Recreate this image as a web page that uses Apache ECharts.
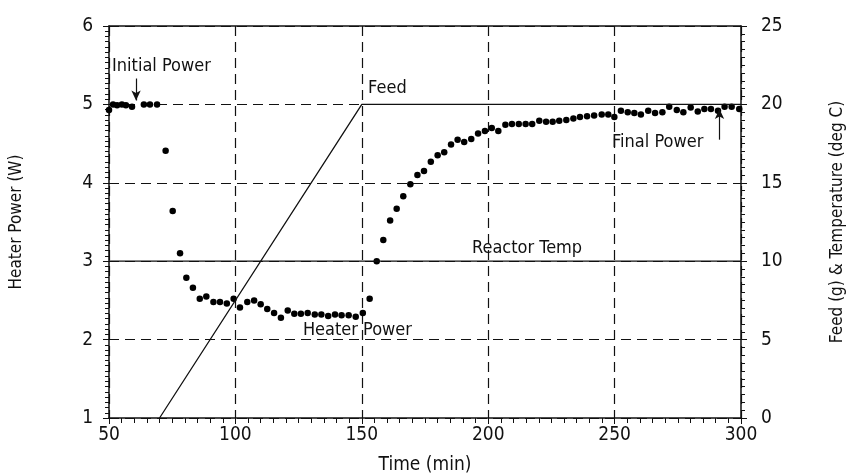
<!DOCTYPE html>
<html>
<head>
    <meta charset="utf-8">
    <title>Heater Power</title>
    <script src="https://cdn.jsdelivr.net/npm/echarts@6/dist/echarts.min.js"></script>
</head>
<body style="margin:0;background:#fff">
    <div id="main" style="width:849px;height:476px"></div>
    <script type="text/javascript">
        // heater power samples (min, W)
        var timeMin = [50.0, 51.6, 53.2, 55.1, 56.7, 59.1, 63.8, 66.2, 69.0,
            72.4, 75.2, 78.1, 80.6, 83.2, 85.9, 88.5, 91.3, 93.9, 96.6, 99.3,
            101.8, 104.7, 107.4, 110.0, 112.6, 115.3, 118.0, 120.7, 123.3, 125.9,
            128.6, 131.4, 134.0, 136.7, 139.4, 142.0, 144.8, 147.6, 150.4, 153.1,
            155.9, 158.5, 161.2, 163.8, 166.4, 169.2, 172.0, 174.6, 177.3, 180.0,
            182.6, 185.3, 187.9, 190.5, 193.3, 196.0, 198.7, 201.4, 204.0, 206.8,
            209.4, 212.1, 214.8, 217.4, 220.2, 222.9, 225.5, 228.1, 230.9, 233.7,
            236.3, 239.1, 241.9, 244.9, 247.5, 249.9, 252.5, 255.2, 257.8, 260.4,
            263.3, 266.0, 268.9, 271.6, 274.6, 277.2, 280.1, 282.9, 285.5, 288.1,
            290.9, 293.5, 296.3, 299.3];
        var heaterW = [4.93, 5.0, 4.99, 5.0, 4.99, 4.97, 5.0, 5.0, 5.0,
            4.41, 3.64, 3.10, 2.79, 2.66, 2.52, 2.55, 2.48, 2.48, 2.46, 2.52,
            2.41, 2.48, 2.50, 2.45, 2.39, 2.34, 2.28, 2.37, 2.33, 2.33,
            2.34, 2.32, 2.32, 2.30, 2.32, 2.31, 2.31, 2.29, 2.34, 2.52,
            3.00, 3.27, 3.52, 3.67, 3.83, 3.98, 4.10, 4.15, 4.27, 4.35,
            4.39, 4.49, 4.55, 4.52, 4.56, 4.63, 4.66, 4.70, 4.66, 4.74,
            4.75, 4.75, 4.75, 4.75, 4.79, 4.78, 4.78, 4.79, 4.80, 4.82,
            4.84, 4.85, 4.86, 4.87, 4.87, 4.84, 4.92, 4.90, 4.89, 4.87,
            4.92, 4.89, 4.90, 4.97, 4.93, 4.90, 4.96, 4.91, 4.94, 4.94,
            4.92, 4.97, 4.97, 4.94];
        // feed (g) and reactor temperature (deg C), right axis
        var feedTime = [70, 150, 300];
        var feedG = [0, 20, 20];
        var tempTime = [50, 300];
        var tempC = [10, 10];

        var ink = '#111';
        var fnt = '"DejaVu Sans Condensed", "Liberation Sans Narrow", sans-serif';

        function pairs(xs, ys) {
            var out = [];
            for (var i = 0; i < xs.length; ++i) out.push([xs[i], ys[i]]);
            return out;
        }

        function note(text, x, y) {
            return {
                coord: [x, y], symbolSize: 0,
                label: { show: true, formatter: text, position: 'right', distance: 0,
                    color: ink, fontFamily: fnt, fontSize: 18 }
            };
        }

        var chart = echarts.init(document.getElementById('main'));
        var option = {
            animation: false,
            backgroundColor: '#fff',
            grid: { left: 109, right: 108, top: 26, bottom: 58, containLabel: false, outerBoundsMode: 'none' },
            xAxis: [{
                type: 'value', min: 50, max: 300, interval: 50,
                name: 'Time (min)', nameLocation: 'middle', nameGap: 38,
                nameTextStyle: { color: ink, fontFamily: fnt, fontSize: 19 },
                axisLine: { lineStyle: { color: ink, width: 1.5 } },
                axisTick: { length: 6, lineStyle: { color: ink } },
                minorTick: { show: true, splitNumber: 10, length: 5, lineStyle: { color: ink } },
                axisLabel: { color: ink, fontFamily: fnt, fontSize: 19, margin: 8 },
                splitLine: { lineStyle: { color: ink, type: [10, 6], width: 1.2 } }
            }, {
                type: 'value', min: 50, max: 300, position: 'top',
                axisLine: { show: true, lineStyle: { color: ink, width: 1.5 } },
                axisTick: { show: false }, axisLabel: { show: false }, splitLine: { show: false }
            }],
            yAxis: [{
                type: 'value', min: 1, max: 6, interval: 1,
                name: 'Heater Power (W)', nameLocation: 'middle', nameGap: 84,
                nameTextStyle: { color: ink, fontFamily: fnt, fontSize: 17 },
                axisLine: { show: true, lineStyle: { color: ink, width: 1.5 } },
                axisTick: { length: 6, lineStyle: { color: ink } },
                minorTick: { show: true, splitNumber: 15, length: 4, lineStyle: { color: ink } },
                axisLabel: { color: ink, fontFamily: fnt, fontSize: 19, margin: 16 },
                splitLine: { lineStyle: { color: ink, type: [10, 6], width: 1.2 } }
            }, {
                type: 'value', min: 0, max: 25, interval: 5, position: 'right',
                name: 'Feed (g) & Temperature (deg C)', nameLocation: 'middle', nameGap: 88,
                nameRotate: 90,
                nameTextStyle: { color: ink, fontFamily: fnt, fontSize: 17 },
                axisLine: { show: true, lineStyle: { color: ink, width: 1.5 } },
                axisTick: { length: 6, lineStyle: { color: ink } },
                minorTick: { show: true, splitNumber: 10, length: 4, lineStyle: { color: ink } },
                axisLabel: { color: ink, fontFamily: fnt, fontSize: 19, margin: 20 },
                splitLine: { show: false }
            }],
            series: [{
                name: 'Feed', type: 'line', yAxisIndex: 1,
                data: pairs(feedTime, feedG), symbol: 'none',
                lineStyle: { color: ink, width: 1.3 }
            }, {
                name: 'Reactor Temp', type: 'line', yAxisIndex: 1,
                data: pairs(tempTime, tempC), symbol: 'none',
                lineStyle: { color: ink, width: 1.3 }
            }, {
                name: 'Heater Power', type: 'scatter',
                data: pairs(timeMin, heaterW), symbol: 'circle', symbolSize: 6.5,
                itemStyle: { color: '#000', opacity: 1 },
                markPoint: {
                    symbol: 'circle',
                    data: [
                        note('Initial Power', 51.2, 5.49),
                        note('Feed', 152.5, 5.2),
                        note('Reactor Temp', 193.6, 3.17),
                        note('Heater Power', 126.7, 2.12),
                        note('Final Power', 249, 4.51)
                    ]
                },
                markLine: {
                    silent: true, symbol: ['none', 'arrow'], symbolSize: [7, 10],
                    label: { show: false },
                    lineStyle: { color: ink, width: 1.2, type: 'solid' },
                    data: [
                        [{ coord: [60.7, 5.33] }, { coord: [60.7, 5.05] }],
                        [{ coord: [291.5, 4.55] }, { coord: [291.5, 4.94] }]
                    ]
                }
            }]
        };
        chart.setOption(option);
    </script>
</body>
</html>
